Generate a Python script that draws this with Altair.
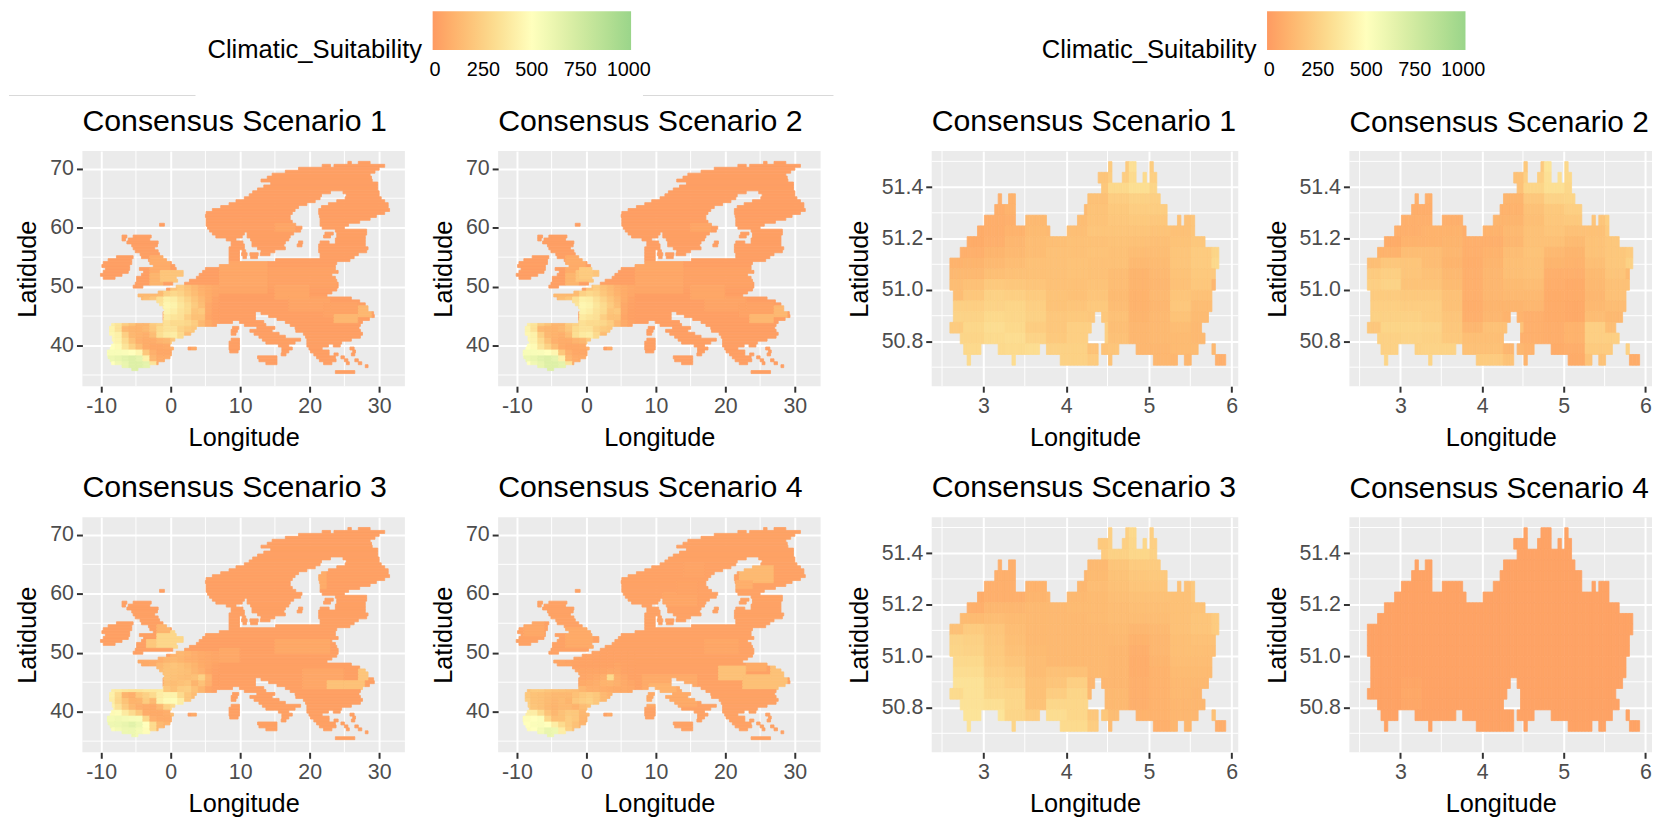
import altair as alt
import pandas as pd

FONT = "Liberation Sans"
COLOR_DOMAIN = [-12, 500, 1012]
COLOR_RANGE = ["#FE9A62", "#FFFFBD", "#9AD58A"]
LEGEND_VALUES = [0, 250, 500, 750, 1000]
TITLES = ["Consensus Scenario 1", "Consensus Scenario 2", "Consensus Scenario 3", "Consensus Scenario 4"]

EU_XT = [-10, 0, 10, 20, 30]
EU_YT = [40, 50, 60, 70]
EU_XM = [-5, 5, 15, 25]
EU_YM = [35, 45, 55, 65]
BE_XT = [3, 4, 5, 6]
BE_YT = [50.8, 51.0, 51.2, 51.4]
BE_XM = [2.5, 3.5, 4.5, 5.5]
BE_YM = [50.7, 50.9, 51.1, 51.3, 51.5]

# Europe silhouette: latitude row, then land spans in longitude
EU_LAND = [
 (71.0, [(25.5,26),(27,28.7)]), (70.5, [(21.8,23),(23.5,30.8)]), (70.0, [(18.4,30)]),
 (69.5, [(16.5,29.4)]), (69.0, [(14.6,28.7)]), (68.5, [(13.9,28.9)]), (68.0, [(13,29)]),
 (67.5, [(14.4,29.8)]), (67.0, [(13.4,29.8)]), (66.5, [(12.5,29.8)]), (66.0, [(11.8,23),(24.8,30)]),
 (65.5, [(11.3,21.7),(25.3,30)]), (65.0, [(10.6,21.5),(25.1,30.3)]), (64.5, [(9.4,20.8),(23.9,30.8)]),
 (64.0, [(8.4,19.6),(22.7,31.3)]), (63.5, [(7.2,18.4),(21.7,31.3)]), (63.0, [(6,17.9),(21.3,31.5)]),
 (62.5, [(5.1,17.5),(21.3,30.8)]), (62.0, [(5,17.2),(21.4,29.6)]), (61.5, [(5.1,17.2),(21.5,28.7)]),
 (61.0, [(5.1,17.5),(21.5,27.2)]), (60.5, [(-1.6,-0.9),(5.1,18),(21.5,25.6)]), (60.0, [(5.3,18.9),(21.8,25)]),
 (59.5, [(5.6,18.7),(23.7,28.2)]), (59.0, [(6,10.6),(11,17.7),(22.2,23.4),(23.9,28.2)]),
 (58.5, [(-7,-6.3),(-5.4,-2.8),(6.5,10.3),(11,17.2),(22,23),(23.9,28)]),
 (58.0, [(-7,-6.5),(-6.1,-3),(8,9.4),(11.5,17),(23.7,28)]),
 (57.5, [(-6.3,-1.8),(8.7,10.4),(11.7,16.5),(18.4,19),(21.5,22.8),(23.7,28)]),
 (57.0, [(-5.6,-1.9),(8.7,10.6),(11.7,16.3),(18.2,18.9),(21.3,28)]),
 (56.5, [(-5.4,-2.3),(8.4,10.6),(12.5,16.5),(21.3,28.4)]),
 (56.0, [(-5.1,-1.8),(8.4,9.9),(10.3,10.8),(13,15),(21.3,28.2)]),
 (55.5, [(-4.4,-1.6),(8.4,9.9),(10.2,11),(11.4,12.6),(12.9,14.3),(21.5,27)]),
 (55.0, [(-7.8,-5.4),(-4.2,-1.1),(8.4,9.9),(10.4,10.9),(11.5,12.5),(21.5,26.4)]),
 (54.5, [(-9,-5.6),(-3.2,-0.6),(8.4,9.9),(15.1,25.8)]),
 (54.0, [(-9.7,-5.6),(-3,0.1),(8.4,23.9)]), (53.5, [(-9.9,-5.9),(-2.5,0.6),(7,23.7)]),
 (53.0, [(-9.4,-5.9),(-4.5,0.8),(5,23.7)]), (52.5, [(-9.7,-6.1),(-3.9,1.8),(4.6,24.1)]),
 (52.0, [(-10.1,-7),(-4.2,1.8),(4.1,23.2)]), (51.5, [(-9.7,-8),(-4.9,0.8),(3.7,23.7)]),
 (51.0, [(-4.9,1.0),(2.7,23.9)]), (50.5, [(-5.1,0.3),(2,24.1)]), (50.0, [(-5.4,-4),(0.8,24.1)]),
 (49.5, [(-0.6,23.9)]), (49.0, [(-1.8,23.2)]), (48.5, [(-4.7,22.5)]), (48.0, [(-4.2,26)]),
 (47.5, [(-2,27.2)]), (47.0, [(-1.6,28)]), (46.5, [(-1.1,28.4)]), (46.0, [(-0.9,28.4)]),
 (45.5, [(-1.1,12.2),(13,29.2)]), (45.0, [(-1.1,12.2),(14.1,29.3)]), (44.5, [(-1.1,12.2),(15.3,28.6)]),
 (44.0, [(-1.1,8.9),(9.9,13.4),(16.5,27.6)]), (43.5, [(-8.5,6.6),(10.6,13.7),(17.2,27.3)]),
 (43.0, [(-8.8,3.7),(8.9,9.8),(12.4,15),(17.9,27.1)]), (42.5, [(-8.8,3.4),(8.7,9.6),(11.4,14.6),(18,27.3)]),
 (42.0, [(-8.8,2.9),(8.7,9.4),(12,15.6),(19.1,27.6)]), (41.5, [(-8.4,1.8),(12.7,16.5),(19.4,27.3)]),
 (41.0, [(-8.4,0.6),(8.7,9.9),(13.2,18.7),(19.6,26)]), (40.5, [(-8.2,0.1),(8.4,9.9),(13.7,17.9),(19.6,24.6)]),
 (40.0, [(-8.5,-0.1),(8.4,9.9),(15.5,17),(19.6,22.7),(23.4,24.4)]),
 (39.5, [(-8.7,0.4),(2.5,3.7),(8.4,9.9),(16,17.5),(19.9,21.8),(25.8,26.4)]),
 (39.0, [(-9.1,0.1),(8.5,9.7),(16,17),(20.1,22.8),(26.2,26.6)]),
 (38.5, [(-9.1,0.1),(15.9,16.6),(20.6,22.8),(23.5,24.1),(26,26.5)]),
 (38.0, [(-9,-0.1),(12.5,15.3),(21,23.7),(24.5,25)]),
 (37.5, [(-8.7,-0.9),(12.7,15.3),(21.4,23.8),(25,25.5),(26.5,27)]),
 (37.0, [(-8.5,-1.8),(13.7,15.3),(22,23.2),(25.3,25.7),(27,27.5)]),
 (36.5, [(-7,-3),(28,28.4)]), (36.0, [(-5.6,-4.7)]), (35.5, [(23.7,26.5)]),
]

# Western Europe blocks: 14 rows of one degree of latitude from 50 N down to 36 N,
# 17 columns of one degree of longitude from 10 W to 7 E (0 = no land read there)
WEST_S1 = [
 [0,0,0,0,0,0,0,0,0,0,180,220,170,130,90,70,50],
 [0,0,0,0,0,130,130,130,140,250,290,260,200,150,100,70,45],
 [0,0,0,0,0,120,160,200,330,420,400,330,260,190,130,70,30],
 [0,0,0,0,0,0,0,0,350,450,430,360,300,220,150,50,20],
 [0,0,0,0,0,0,0,0,0,430,400,340,300,190,210,50,15],
 [0,0,0,0,0,0,0,0,0,380,350,330,240,170,170,40,15],
 [0,400,350,230,180,120,120,220,260,330,300,300,280,230,130,60,30],
 [0,430,340,130,110,100,130,200,300,340,340,260,220,200,0,0,0],
 [0,450,420,240,120,100,90,150,320,380,400,300,150,0,0,0,0],
 [0,450,430,300,170,90,70,70,100,120,200,0,0,0,0,0,0],
 [0,500,470,350,250,150,70,50,50,60,90,0,0,60,0,0,0],
 [520,540,540,530,500,450,200,90,50,50,60,0,0,0,0,0,0],
 [0,600,620,660,680,640,420,120,70,70,0,0,0,0,0,0,0],
 [0,500,580,620,680,680,640,350,0,0,0,0,0,0,0,0,0],
]
WEST_S3 = [
 [0,0,0,0,0,0,0,0,0,0,100,120,100,80,60,50,40],
 [0,0,0,0,0,60,60,70,80,110,130,110,90,80,60,50,40],
 [0,0,0,0,0,60,60,70,130,170,190,170,140,110,70,50,30],
 [0,0,0,0,0,0,0,0,150,180,180,170,160,120,90,40,20],
 [0,0,0,0,0,0,0,0,0,180,170,160,150,170,250,100,15],
 [0,0,0,0,0,0,0,0,0,160,150,170,190,110,170,90,15],
 [0,400,380,360,350,350,370,370,380,200,170,230,240,170,110,40,20],
 [0,420,300,110,90,200,250,300,400,430,430,300,200,150,0,0,0],
 [0,400,280,180,100,110,220,130,420,470,480,400,200,0,0,0,0],
 [0,430,340,220,130,90,70,60,120,250,300,0,0,0,0,0,0],
 [0,470,480,380,300,200,70,60,60,80,150,0,0,60,0,0,0],
 [560,560,580,560,550,540,280,90,70,70,90,0,0,0,0,0,0],
 [0,590,600,620,660,600,500,300,130,100,0,0,0,0,0,0,0],
 [0,520,560,600,600,560,480,300,0,0,0,0,0,0,0,0,0],
]
WEST_S4 = [
 [0,0,0,0,0,0,0,0,0,0,30,30,25,25,25,25,25],
 [0,0,0,0,0,40,40,35,30,30,30,25,25,25,25,25,25],
 [0,0,0,0,0,40,40,40,30,30,30,30,30,30,40,30,25],
 [0,0,0,0,0,0,0,0,40,40,40,40,40,50,50,30,25],
 [0,0,0,0,0,0,0,0,0,45,50,60,80,300,80,50,25],
 [0,0,0,0,0,0,0,0,0,60,70,80,100,110,90,60,40],
 [0,180,220,220,190,170,170,160,150,120,90,90,80,70,60,60,50],
 [0,200,180,170,150,130,130,130,170,210,230,200,130,100,0,0,0],
 [0,230,180,170,140,120,140,110,200,230,250,200,0,0,0,0,0],
 [0,240,190,170,130,110,130,130,100,150,170,0,0,0,0,0,0],
 [0,400,400,300,180,120,170,210,200,120,120,0,0,60,0,0,0],
 [470,480,500,520,280,160,170,230,200,110,110,0,0,0,0,0,0],
 [0,500,520,530,500,400,300,230,170,110,0,0,0,0,0,0,0],
 [0,480,500,560,620,600,400,250,0,0,0,0,0,0,0,0,0],
]

# Other suitability zones: lat_hi, lat_lo, lon_lo, lon_hi, value (later zones lie on top)
EU_BASE = [12, 12, 15, 22]
EU_S1 = [
 (54,49,7,14,45),(53,50,14,24,25),(48,46,17,23,35),(47,45,22,27,30),(45,44,23.5,27,120),(46.5,45,27,29,120),
 (50,48,15,20,45),(55,52.5,-3,0,70),(52,50.5,-3,-1,110),(52.5,51,-1.5,1.8,190),(60.5,59.5,15,18,40),
]
EU_S2_EXTRA = [(53,51.5,-1,1,220)]
EU_S2 = EU_S1 + EU_S2_EXTRA
EU_S3 = [
 (50.5,48.5,7,10,50),(53.5,51,-2,1.8,280),(52,51,-3.5,-2,200),(54.5,53.5,-2,0,110),
 (47,44,19,25,45),(52,50,15,23,50),(45,43.8,22.5,28,170),(47,45.5,27,28.5,190),(64,61,21,22.5,70),
]
EU_S4 = [
 (46,41,8,16,60),(44.5,43.5,9,13,100),(47.5,45.5,19,23,170),(46,44,22.5,29,165),(47.5,45.5,26.5,28.5,170),
 (48,47,23,26,70),(64.5,62,22,27,130),(62,61,21.5,24,90),(60,58,11,16,40),(62,60,13,16,30),(65,63,14,17,35),
 (52,50,17,22,45),(54,51,-3,1,60),(55,53,-9,-6,50),
]

# Belgium silhouette: one row per grid row from north to south, runs of 1/24-degree columns
BE_LAND = [
 [(46,47),(51,54),(58,59)],
 [(43,47),(50,54),(56,57),(58,60)],
 [(44,60)],
 [(14,15),(17,19),(40,61)],
 [(13,19),(39,63)],
 [(10,19),(22,28),(37,63),(66,67),(68,71)],
 [(8,29),(34,71)],
 [(5,74)],
 [(3,78)],
 [(0,78)],
 [(0,77)],
 [(0,77)],
 [(1,76)],
 [(1,76)],
 [(1,42),(44,75)],
 [(0,41),(45,73)],
 [(3,40),(45,74)],
 [(4,9),(14,26),(28,43),(44,49),(54,72),(76,77)],
 [(5,6),(18,19),(32,43),(46,47),(59,66),(68,70),(77,80)],
]
# Belgium values: 19 rows x 14 quarter-degree blocks from 2.5 E
BE_S1 = [
 [0,0,0,0,0,0,0,0,220,330,230,0,0,0],
 [0,0,0,0,0,0,0,190,230,300,240,0,0,0],
 [0,0,0,0,0,0,0,200,290,320,270,0,0,0],
 [0,0,90,100,0,0,0,170,230,250,240,0,0,0],
 [0,0,80,100,0,0,140,180,210,230,230,0,0,0],
 [0,0,80,90,130,120,150,180,200,210,200,170,190,0],
 [0,70,80,100,140,130,160,190,190,190,180,170,190,0],
 [0,70,90,120,150,160,170,170,180,170,160,180,200,0],
 [0,90,110,130,150,170,170,180,170,150,150,190,220,270],
 [100,110,130,150,170,170,180,170,170,130,140,190,220,290],
 [130,130,160,170,170,170,180,170,150,110,130,180,210,0],
 [150,170,210,200,190,170,170,180,150,110,120,170,200,0],
 [150,200,250,240,220,180,170,190,140,100,130,190,170,0],
 [0,240,260,270,240,180,190,210,150,100,120,200,150,0],
 [0,260,290,280,250,200,210,200,170,110,130,180,140,0],
 [220,280,310,290,230,200,240,0,160,120,130,150,130,0],
 [0,270,300,310,260,210,240,0,170,120,130,140,130,0],
 [0,290,0,300,310,250,250,180,190,120,120,140,0,130],
 [0,300,0,310,0,0,250,220,180,0,120,120,0,90],
]
BE_S2 = [
 [0,0,0,0,0,0,0,0,210,350,290,0,0,0],
 [0,0,0,0,0,0,0,170,240,330,290,0,0,0],
 [0,0,0,0,0,0,0,170,270,320,280,0,0,0],
 [0,0,90,90,0,0,0,110,200,260,270,0,0,0],
 [0,0,80,80,0,0,0,100,170,210,240,0,0,0],
 [0,0,90,90,90,90,110,110,160,200,210,190,240,0],
 [0,0,90,100,100,80,100,130,170,190,170,170,220,0],
 [0,70,100,100,110,90,90,120,170,170,140,180,200,0],
 [0,100,150,150,120,90,100,150,180,130,110,180,200,220],
 [160,200,190,150,110,80,110,160,170,110,100,160,200,250],
 [220,240,190,170,130,90,120,160,170,90,90,140,190,0],
 [240,260,180,180,140,90,120,140,150,80,70,130,170,0],
 [0,220,210,210,170,90,120,130,130,70,70,120,170,0],
 [0,240,230,230,170,80,110,110,120,70,60,130,150,0],
 [0,250,250,230,190,90,120,100,90,70,60,150,130,0],
 [200,270,270,260,200,120,170,0,90,80,100,240,160,0],
 [0,250,260,250,210,160,160,0,90,80,100,240,240,0],
 [0,250,0,260,260,170,170,120,100,70,80,220,0,250],
 [0,270,0,270,0,0,220,180,110,0,70,180,0,70],
]
BE_S3 = [
 [0,0,0,0,0,0,0,0,240,290,240,0,0,0],
 [0,0,0,0,0,0,0,210,240,280,240,0,0,0],
 [0,0,0,0,0,0,0,220,250,280,250,0,0,0],
 [0,0,90,90,0,0,0,130,190,220,220,0,0,0],
 [0,0,90,90,0,0,120,140,180,200,210,0,0,0],
 [0,0,90,90,100,100,120,150,170,190,190,170,210,0],
 [0,70,90,90,110,120,130,140,160,170,170,170,200,0],
 [0,90,120,120,130,130,140,140,150,160,160,170,180,0],
 [0,140,150,140,130,130,130,140,150,150,150,170,190,220],
 [170,220,190,150,130,130,130,130,140,120,130,170,190,220],
 [260,250,200,160,130,130,130,130,130,100,120,160,170,0],
 [270,260,210,170,140,130,130,130,120,90,120,160,160,0],
 [0,290,220,190,150,130,130,130,120,80,110,150,150,0],
 [0,310,240,220,150,170,170,130,120,80,100,140,140,0],
 [0,340,270,240,170,190,240,0,120,90,100,130,130,0],
 [300,340,280,270,170,230,270,0,130,90,100,130,120,0],
 [0,340,320,280,180,280,280,0,130,90,100,120,120,0],
 [0,350,0,270,230,310,280,200,150,100,100,120,0,170],
 [0,340,0,270,0,0,300,230,150,0,90,120,0,80],
]
BE_S4 = [[28] * 14 for _ in BE_LAND]
BE_S4[15][2] = 50
BE_S4[14][2] = 40
BE_S4[16][2] = 46


def west_zones(matrix):
    zones = []
    for r, row in enumerate(matrix):
        for c, v in enumerate(row):
            if v:
                zones.append((50 - r, 49 - r, -10 + c, -9 + c, v))
    return zones


def eu_cells(base, zones):
    rows = []
    for lat, spans in EU_LAND:
        for a, b in spans:
            cuts = {a, b}
            for hi, lo, z0, z1, _ in zones:
                if lo <= lat <= hi:
                    cuts |= {c for c in (z0, z1) if a < c < b}
            cuts = sorted(cuts)
            for c0, c1 in zip(cuts[:-1], cuts[1:]):
                v = base
                for hi, lo, z0, z1, zv in zones:
                    if lo <= lat <= hi and z0 <= c0 and c1 <= z1:
                        v = zv
                rows.append(dict(x=c0, x2=c1, y=lat + 0.25, y2=lat - 0.25, v=v))
    return pd.DataFrame(rows)


def be_cells(matrix):
    rows = []
    for i, spans in enumerate(BE_LAND):
        top = 51.499 - i * 0.04165
        row = matrix[i]
        for c0, c1 in spans:
            for c in range(c0, c1):
                lon0 = 2.595 + c / 24
                block = min(13, int((lon0 + 0.02 - 2.5) / 0.25))
                v = row[block]
                if v == 0:  # read value of the nearest block that holds one
                    v = min((x for x in row if x), key=lambda x: abs(row.index(x) - block))
                rows.append(dict(x=lon0, x2=lon0 + 1 / 24, y=top, y2=top - 0.04165, v=v))
    return pd.DataFrame(rows)


SCALE = alt.Scale(domain=COLOR_DOMAIN, range=COLOR_RANGE)


def panel(cells, title, xdom, ydom, xt, yt, xm, ym, w, yfmt, tsize=30.5):
    xs = alt.Scale(domain=xdom, nice=False, zero=False)
    ys = alt.Scale(domain=ydom, nice=False, zero=False)
    xax = alt.Axis(values=xt, title="Longitude", labelExpr="toString(datum.value)", grid=True)
    yax = alt.Axis(values=yt, title="Latidude", labelExpr=yfmt, grid=True)
    vminor = alt.Chart(pd.DataFrame({"m": xm})).mark_rule(color="white", strokeWidth=1).encode(
        x=alt.X("m:Q", scale=xs, axis=xax))
    hminor = alt.Chart(pd.DataFrame({"m": ym})).mark_rule(color="white", strokeWidth=1).encode(
        y=alt.Y("m:Q", scale=ys, axis=yax))
    rects = alt.Chart(cells).mark_rect(strokeWidth=0.8).encode(
        x=alt.X("x:Q", scale=xs, axis=xax), x2="x2:Q",
        y=alt.Y("y:Q", scale=ys, axis=yax), y2="y2:Q",
        color=alt.Color("v:Q", scale=SCALE, legend=None),
        stroke=alt.Stroke("v:Q", scale=SCALE, legend=None),
    )
    return alt.layer(vminor, hminor, rects).properties(
        width=w, height=237,
        title=alt.TitleParams(title, anchor="start", frame="group", fontSize=tsize, font=FONT, fontWeight="normal",
                              color="black", offset=13),
        view=alt.ViewBackground(fill="#EBEBEB", stroke=None),
    )


TOP_H = 77


def legend_chart(width, lx, ly, rules):
    leg = alt.Legend(title="Climatic_Suitability", orient="none", legendX=lx, legendY=ly, direction="horizontal",
                     titleOrient="left", gradientLength=200, gradientThickness=39, values=LEGEND_VALUES,
                     titleFontSize=25.8, titleFont=FONT, titleFontWeight="normal", titleColor="black", titleLimit=400,
                     titleAnchor="end", titleBaseline="middle",
                     labelFontSize=20, labelFont=FONT, labelColor="black", titlePadding=10, labelOffset=10,
                     labelOverlap=False, labelExpr="toString(datum.value)")
    xs = alt.Scale(domain=[0, width], range=[0, width])
    ys = alt.Scale(domain=[0, TOP_H], range=[0, TOP_H])
    key = alt.Chart(pd.DataFrame({"v": COLOR_DOMAIN})).mark_point(opacity=0, size=1).encode(
        x=alt.value(1), y=alt.value(1), color=alt.Color("v:Q", scale=SCALE, legend=leg))
    layers = [key]
    if rules:
        df = pd.DataFrame(rules, columns=["a", "b", "y"])
        layers.append(alt.Chart(df).mark_rule(color="#D9D9D9", strokeWidth=1).encode(
            x=alt.X("a:Q", scale=xs, axis=None), x2="b:Q", y=alt.Y("y:Q", scale=ys, axis=None)))
    return alt.layer(*layers).properties(width=width, height=TOP_H, view=alt.ViewBackground(fill=None, stroke=None))


EU_X = [-12.7, 33.7]
EU_Y = [33.1, 73.0]
BE_X = [2.375, 6.08]
BE_Y = [50.626, 51.54]
EU_FMT = "toString(datum.value)"
BE_FMT = "format(datum.value, '.1f')"


def eu(i, zones, west):
    return panel(eu_cells(EU_BASE[i], zones + west_zones(west)), TITLES[i], EU_X, EU_Y, EU_XT, EU_YT, EU_XM, EU_YM,
                 325, EU_FMT)


def be(i, matrix, w=309, tsize=30.5):
    return panel(be_cells(matrix), TITLES[i], BE_X, BE_Y, BE_XT, BE_YT, BE_XM, BE_YM, w, BE_FMT, tsize)


top = alt.hconcat(
    legend_chart(757, 126, -16, [(-74, 114, 69), (565, 757, 69)]),
    legend_chart(811, 209, -16, []),
    spacing=0,
).resolve_scale(color="independent")
row1 = alt.hconcat(eu(0, EU_S1, WEST_S1), eu(1, EU_S2, WEST_S1), be(0, BE_S1), be(1, BE_S2, 305, 30), spacing=26)
row2 = alt.hconcat(eu(2, EU_S3, WEST_S3), eu(3, EU_S4, WEST_S4), be(2, BE_S3), be(3, BE_S4, 305, 30), spacing=26)
chart = alt.vconcat(top, alt.vconcat(row1, row2, spacing=23), spacing=4).properties(
    padding=0, background="white"
).configure_axis(
    labelFont=FONT, labelFontSize=21.5, labelColor="#4D4D4D", titleFont=FONT, titleFontSize=25.5,
    titleFontWeight="normal", titleColor="black", tickColor="#333333", tickSize=6, tickWidth=2,
    domain=False, gridColor="white", gridWidth=2, labelPadding=3, titlePadding=9,
)
chart.save("out.html", embed_options={"renderer": "svg", "actions": False})
